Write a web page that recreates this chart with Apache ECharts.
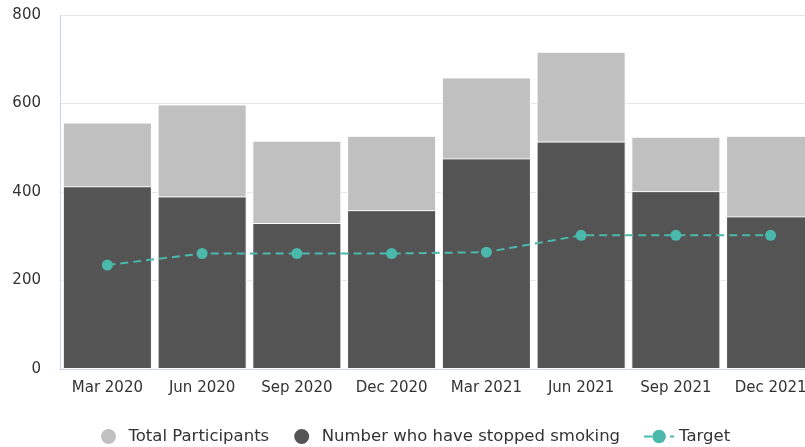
<!DOCTYPE html>
<html>
<head>
<meta charset="utf-8">
<script src="https://cdn.jsdelivr.net/npm/echarts@6/dist/echarts.min.js"></script>
<style>
  html, body { margin: 0; padding: 0; background: #fff; overflow: hidden; }
  #wrap { width: 805px; height: 447px; overflow: hidden; }
  #chart { width: 833px; height: 447px; }
</style>
</head>
<body>
<div id="wrap"><div id="chart"></div></div>
<script>
// Quarterly stop-smoking service figures
const quarters = ['Mar 2020', 'Jun 2020', 'Sep 2020', 'Dec 2020', 'Mar 2021', 'Jun 2021', 'Sep 2021', 'Dec 2021'];
const totalParticipants = [557, 598, 516, 527, 659, 717, 525, 527];
const stoppedSmoking = [413, 390, 330, 359, 476, 514, 402, 345];
const target = [235, 261, 261, 261, 264, 302, 302, 302];
const yTicks = [0, 200, 400, 600, 800];

const FONT = '"DejaVu Sans", Verdana, sans-serif';
const chart = echarts.init(document.getElementById('chart'), null, { renderer: 'canvas' });

chart.setOption({
  animation: false,
  textStyle: { fontFamily: FONT },
  grid: { left: 60, right: 15, top: 15, bottom: 78, containLabel: false },
  legend: {
    top: 427,
    left: 99,
    padding: 0,
    itemGap: 23,
    itemWidth: 30,
    itemHeight: 17,
    textStyle: { fontFamily: FONT, fontSize: 16.5, color: '#333' },
    data: [
      { name: 'Total Participants', icon: 'circle' },
      { name: 'Number who have stopped smoking', icon: 'circle' },
      { name: 'Target' }
    ]
  },
  xAxis: {
    type: 'category',
    data: quarters,
    axisLine: { lineStyle: { color: '#ccd6eb', width: 1 } },
    axisTick: { alignWithLabel: true, length: 10, lineStyle: { color: '#ccd6eb' } },
    axisLabel: { interval: 0, fontFamily: FONT, fontSize: 15, color: '#333', margin: 12 },
    splitLine: { show: false }
  },
  yAxis: {
    type: 'value',
    min: yTicks[0],
    max: yTicks[yTicks.length - 1],
    interval: 200,
    axisLine: { show: true, lineStyle: { color: '#ccd6eb', width: 1 } },
    axisTick: { show: false },
    axisLabel: { fontFamily: FONT, fontSize: 15, color: '#333', margin: 19 },
    splitLine: { lineStyle: { color: '#e6e6e6', width: 1 } }
  },
  series: [
    {
      name: 'Total Participants',
      type: 'bar',
      data: totalParticipants,
      barGap: '-100%',
      barCategoryGap: '6%',
      itemStyle: { color: '#c0c0c0', borderColor: '#ffffff', borderWidth: 1 },
      z: 1
    },
    {
      name: 'Number who have stopped smoking',
      type: 'bar',
      data: stoppedSmoking,
      barGap: '-100%',
      barCategoryGap: '6%',
      itemStyle: { color: '#545454', borderColor: '#ffffff', borderWidth: 1 },
      z: 2
    },
    {
      name: 'Target',
      type: 'line',
      data: target,
      symbol: 'circle',
      symbolSize: 11,
      lineStyle: { color: '#4bb8ac', width: 2, type: [8, 5] },
      itemStyle: { color: '#4bb8ac' },
      z: 3
    }
  ]
});
</script>
</body>
</html>
